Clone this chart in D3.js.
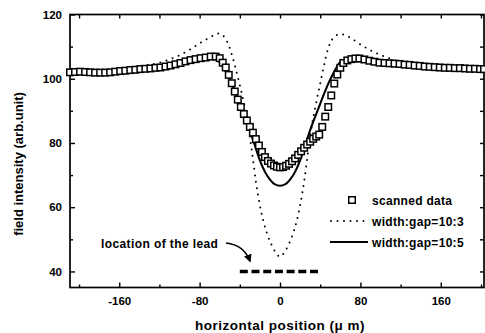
<!DOCTYPE html>
<html>
<head>
<meta charset="utf-8">
<script src="https://cdn.jsdelivr.net/npm/d3@7"></script>
<style>
  body { margin: 0; background: #fff; }
  text { font-family: "Liberation Sans", Arial, sans-serif; fill: #000; }
</style>
</head>
<body>
<div id="chart"></div>
<script>

// scanned data: [position (um), intensity]
var scanned = [
  [-209,102.0],[-204,102.1],[-199,102.2],[-194,102.1],[-189,102.0],[-184,101.9],[-179,101.9],[-174,101.9],
  [-169,102.0],[-164,102.2],[-159,102.4],[-154,102.5],[-149,102.7],[-144,102.8],[-139,103.0],[-134,103.1],
  [-129,103.2],[-124,103.4],[-119,103.5],[-114,103.8],[-109,104.1],[-104,104.5],[-99,104.9],[-94,105.4],
  [-89,105.8],[-84,106.1],[-79,106.4],[-74,106.6],[-69,106.9],[-64,106.9],[-60,106.4],[-57,105.0],
  [-54,103.5],[-51,101.2],[-48,98.6],[-45,96.0],[-42,93.5],[-39,91.2],[-36,89.0],[-33,87.0],
  [-30,85.0],[-27,83.2],[-24,81.2],[-21,79.2],[-18,77.2],[-15,75.6],[-12,74.4],[-9,73.6],
  [-6,73.0],[-3,72.6],[0,72.4],[3,72.5],[6,72.9],[9,73.5],[12,74.3],[15,75.2],
  [18,76.3],[21,77.4],[24,78.5],[27,79.5],[30,80.4],[33,81.3],[36,82.0],[39,82.6],
  [42,85.0],[45,88.2],[48,91.2],[51,94.8],[54,98.5],[57,101.3],[60,103.4],[63,104.9],
  [67,105.7],[71,106.1],[75,106.3],[79,106.3],[84,106.0],[89,105.6],[94,105.3],[99,105.0],
  [104,104.9],[109,104.8],[114,104.7],[119,104.6],[124,104.4],[129,104.3],[134,104.1],[139,104.0],
  [144,103.8],[149,103.7],[154,103.6],[159,103.5],[164,103.4],[169,103.4],[174,103.3],[179,103.3],
  [184,103.2],[189,103.1],[194,103.1],[199,103.0],[203,103.0]
];

// simulation, width:gap = 10:3 (dotted)
var sim103 = [
  [-209,102.0],[-190,102.2],[-170,102.6],[-150,103.3],[-140,103.8],[-130,104.3],[-120,105.0],[-110,106.0],
  [-100,107.3],[-90,109.0],[-80,111.0],[-72,112.5],[-66,113.5],[-61,114.1],[-57,113.5],[-53,111.8],
  [-50,109.5],[-47,106.5],[-44,103.0],[-40,98.0],[-36,92.5],[-32,86.0],[-28,77.5],[-24,68.0],
  [-20,60.5],[-16,55.0],[-12,51.0],[-8,48.0],[-4,45.8],[0,44.6],[4,45.8],[8,48.0],
  [12,51.0],[16,55.0],[20,60.5],[24,68.0],[28,77.5],[32,86.0],[36,92.5],[40,98.5],
  [44,104.5],[48,109.5],[52,112.3],[56,113.5],[60,113.9],[65,113.6],[72,112.3],[82,110.3],
  [92,108.5],[105,106.8],[119,105.3],[132,104.3],[145,103.7],[160,103.4],[180,103.2],[203,103.0]
];

// simulation, width:gap = 10:5 (solid)
var sim105 = [
  [-209,101.8],[-190,101.9],[-170,102.1],[-150,102.6],[-130,103.1],[-115,103.7],[-100,104.6],[-90,105.4],
  [-80,106.1],[-75,106.4],[-70,106.5],[-65,106.2],[-60,105.2],[-55,102.8],[-50,99.8],[-45,96.2],
  [-40,92.2],[-35,88.2],[-30,84.0],[-25,79.2],[-20,74.6],[-15,71.0],[-10,68.6],[-5,67.1],
  [0,66.7],[5,67.1],[10,68.6],[15,71.0],[20,74.6],[25,79.2],[30,84.0],[35,88.2],
  [40,92.2],[45,96.2],[50,99.8],[55,102.8],[60,105.2],[65,106.0],[70,106.4],[75,106.5],
  [80,106.4],[90,105.9],[100,105.4],[115,104.8],[130,104.3],[150,103.8],[170,103.4],[190,103.2],
  [203,103.0]
];

// lead location bar (at intensity 40)
var leadSpan = [-40, 40];
var leadLevel = 40;

var xTicks = [-160, -80, 0, 80, 160];
var xMinor = [-200, -120, -40, 40, 120, 200];
var yTicks = [40, 60, 80, 100, 120];
var yMinor = [50, 70, 90, 110];

var legendLabels = ["scanned data", "width:gap=10:3", "width:gap=10:5"];

// plot box
var boxLeft = 70, boxRight = 484, boxTop = 14.5, boxBottom = 287.5;

var svg = d3.select("#chart")
  .append("svg")
    .attr("width", 485)
    .attr("height", 333);

var x = d3.scaleLinear().domain([-209, 203]).range([boxLeft, boxRight]);
var y = d3.scaleLinear().domain([35, 120]).range([boxBottom, boxTop]);

// plain hyphen for negatives, like the original
var plain = function(d) { return String(d); };

// frame
svg.append("rect")
  .attr("x", boxLeft).attr("y", boxTop)
  .attr("width", boxRight - boxLeft).attr("height", boxBottom - boxTop)
  .attr("fill", "none").attr("stroke", "#000").attr("stroke-width", 1.7);

// axes with inward ticks
svg.append("g")
  .attr("transform", "translate(0," + boxBottom + ")")
  .call(d3.axisBottom(x).tickValues(xTicks).tickSize(-5).tickPadding(9).tickFormat(plain))
  .call(function(g) { g.select(".domain").remove(); });
svg.append("g")
  .attr("transform", "translate(0," + boxBottom + ")")
  .call(d3.axisBottom(x).tickValues(xMinor).tickSize(-3).tickFormat(""))
  .call(function(g) { g.select(".domain").remove(); });
svg.append("g")
  .attr("transform", "translate(0," + boxTop + ")")
  .call(d3.axisTop(x).tickValues(xTicks.concat(xMinor)).tickSize(-4).tickFormat(""))
  .call(function(g) { g.select(".domain").remove(); });

svg.append("g")
  .attr("transform", "translate(" + boxLeft + ",0)")
  .call(d3.axisLeft(y).tickValues(yTicks).tickSize(-5).tickPadding(8).tickFormat(plain))
  .call(function(g) { g.select(".domain").remove(); });
svg.append("g")
  .attr("transform", "translate(" + boxLeft + ",0)")
  .call(d3.axisLeft(y).tickValues(yMinor).tickSize(-3).tickFormat(""))
  .call(function(g) { g.select(".domain").remove(); });
svg.append("g")
  .attr("transform", "translate(" + boxRight + ",0)")
  .call(d3.axisRight(y).tickValues(yTicks.concat(yMinor)).tickSize(-4).tickFormat(""))
  .call(function(g) { g.select(".domain").remove(); });

svg.selectAll(".tick line").attr("stroke", "#000").attr("stroke-width", 1.4);
svg.selectAll(".tick text")
  .style("font-size", "11.5px")
  .style("font-weight", "bold")
  .style("font-family", "Liberation Sans, Arial, sans-serif");

// axis titles
svg.append("text")
  .attr("x", 280).attr("y", 330)
  .attr("text-anchor", "middle")
  .style("font-size", "13.5px")
  .style("font-weight", "bold")
  .style("letter-spacing", "0.5px")
  .text("horizontal position (\u03bc m)");
svg.append("text")
  .attr("transform", "translate(23,164) rotate(-90)")
  .attr("text-anchor", "middle")
  .style("font-size", "13px")
  .style("font-weight", "bold")
  .text("field intensity (arb.unit)");

var line = d3.line()
  .x(function(d) { return x(d[0]); })
  .y(function(d) { return y(d[1]); })
  .curve(d3.curveMonotoneX);

// dotted curve
svg.append("path")
  .datum(sim103)
  .attr("d", line)
  .attr("fill", "none")
  .attr("stroke", "#000")
  .attr("stroke-width", 2)
  .attr("stroke-linecap", "round")
  .attr("stroke-dasharray", "0,6.5");

// solid curve
svg.append("path")
  .datum(sim105)
  .attr("d", line)
  .attr("fill", "none")
  .attr("stroke", "#000")
  .attr("stroke-width", 2.1);

// scanned squares
svg.selectAll("rect.pt")
  .data(scanned)
  .enter()
  .append("rect")
    .attr("class", "pt")
    .attr("x", function(d) { return x(d[0]) - 3.25; })
    .attr("y", function(d) { return y(d[1]) - 3.25; })
    .attr("width", 6.5)
    .attr("height", 6.5)
    .attr("fill", "#fff")
    .attr("stroke", "#000")
    .attr("stroke-width", 1.5);

// lead location bar
svg.append("line")
  .attr("x1", x(leadSpan[0])).attr("x2", x(leadSpan[1]))
  .attr("y1", y(leadLevel)).attr("y2", y(leadLevel))
  .attr("stroke", "#000")
  .attr("stroke-width", 3.5)
  .attr("stroke-dasharray", "8,3.7");

// annotation with curved arrow
svg.append("defs").append("marker")
  .attr("id", "arrow")
  .attr("viewBox", "0 0 10 10")
  .attr("refX", 8).attr("refY", 5)
  .attr("markerWidth", 5).attr("markerHeight", 5)
  .attr("orient", "auto")
  .append("path")
    .attr("d", "M0,0L10,5L0,10z")
    .attr("fill", "#000");

svg.append("text")
  .attr("x", 101).attr("y", 247.5)
  .style("font-size", "12px")
  .style("font-weight", "bold")
  .style("letter-spacing", "0.4px")
  .text("location of the lead");

svg.append("path")
  .attr("d", "M226,243 Q244,245 250,261")
  .attr("fill", "none")
  .attr("stroke", "#000")
  .attr("stroke-width", 1.6)
  .attr("marker-end", "url(#arrow)");

// legend
var legendY = [200, 221, 242];
var lg = svg.append("g");
lg.append("rect")
  .attr("x", 348.75).attr("y", legendY[0] - 3.25)
  .attr("width", 6.5).attr("height", 6.5)
  .attr("fill", "#fff").attr("stroke", "#000").attr("stroke-width", 1.5);
lg.append("line")
  .attr("x1", 331).attr("x2", 367)
  .attr("y1", legendY[1]).attr("y2", legendY[1])
  .attr("stroke", "#000").attr("stroke-width", 2)
  .attr("stroke-linecap", "round").attr("stroke-dasharray", "0,6.5");
lg.append("line")
  .attr("x1", 330).attr("x2", 368)
  .attr("y1", legendY[2]).attr("y2", legendY[2])
  .attr("stroke", "#000").attr("stroke-width", 2.1);
lg.selectAll("text")
  .data(legendLabels)
  .enter()
  .append("text")
    .attr("x", 372)
    .attr("y", function(d, i) { return legendY[i] + 4.5; })
    .style("font-size", "12px")
    .style("font-weight", "bold")
    .style("letter-spacing", "0.3px")
    .text(function(d) { return d; });

</script>
</body>
</html>
